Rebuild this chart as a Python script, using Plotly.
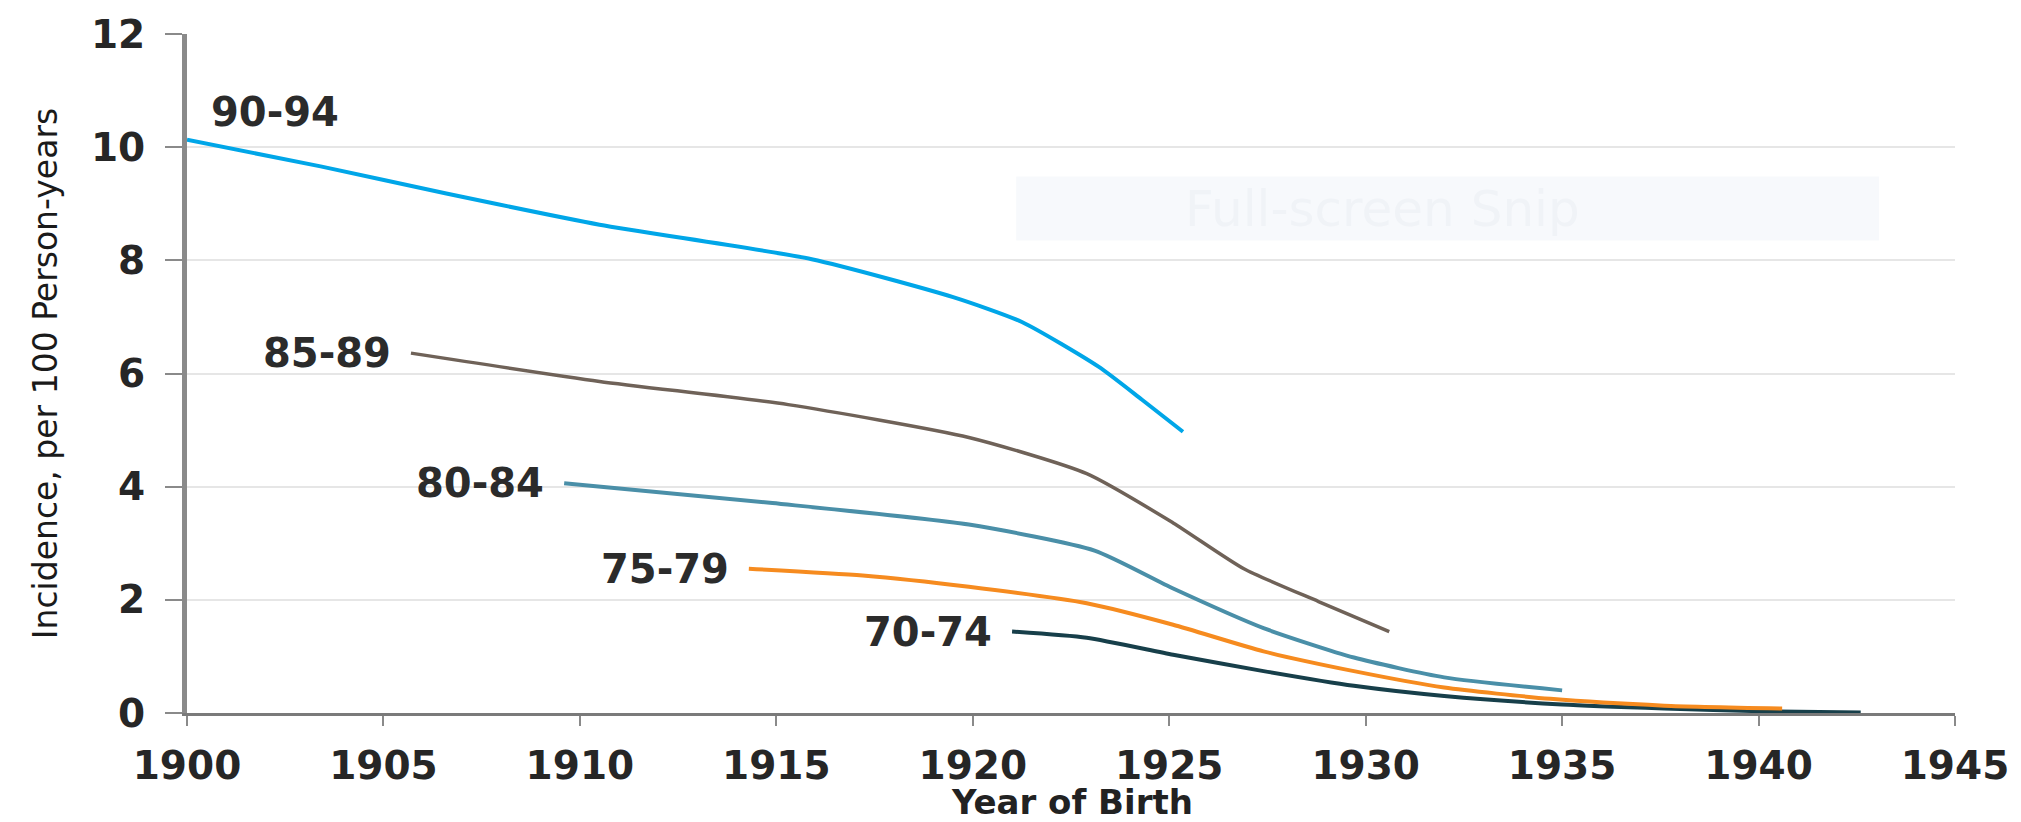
import plotly.graph_objects as go

# ---- data ----
labels = ["70-74", "75-79", "80-84", "85-89", "90-94"]

years_70_74 = [1921.0, 1922.9, 1925.1, 1927.4, 1929.7, 1932.0, 1935.0, 1937.6, 1940.1, 1942.6]
inc_70_74 = [1.44, 1.33, 1.03, 0.74, 0.48, 0.30, 0.15, 0.08, 0.03, 0.01]

years_75_79 = [1914.3, 1917.2, 1919.9, 1922.9, 1925.1, 1927.4, 1929.7, 1932.0, 1934.7, 1937.6, 1940.6]
inc_75_79 = [2.55, 2.43, 2.23, 1.94, 1.56, 1.09, 0.74, 0.45, 0.25, 0.13, 0.08]

years_80_84 = [1909.6, 1914.9, 1919.9, 1923.1, 1925.1, 1927.4, 1929.7, 1932.0, 1935.0]
inc_80_84 = [4.06, 3.71, 3.33, 2.87, 2.20, 1.50, 0.98, 0.63, 0.40]

years_85_89 = [1905.7, 1910.5, 1915.3, 1919.9, 1922.9, 1925.1, 1926.9, 1928.8, 1930.6]
inc_85_89 = [6.36, 5.86, 5.45, 4.87, 4.23, 3.36, 2.55, 1.97, 1.44]

years_90_94 = [1900.0, 1903.4, 1906.6, 1910.5, 1915.9, 1919.5, 1921.25, 1923.2, 1924.3, 1925.35]
inc_90_94 = [10.13, 9.66, 9.18, 8.63, 8.02, 7.35, 6.91, 6.12, 5.54, 4.97]

x_ticks = [1900, 1905, 1910, 1915, 1920, 1925, 1930, 1935, 1940, 1945]
y_ticks = [0, 2, 4, 6, 8, 10, 12]

series_x = [years_70_74, years_75_79, years_80_84, years_85_89, years_90_94]
series_y = [inc_70_74, inc_75_79, inc_80_84, inc_85_89, inc_90_94]
colors = ["#173f4a", "#f68b1f", "#4a8fa8", "#6f6258", "#00a6e8"]
widths = [4, 4, 4, 3.5, 4]

fig = go.Figure()
for lab, xs, ys, c, w in zip(labels, series_x, series_y, colors, widths):
    fig.add_trace(go.Scatter(x=xs, y=ys, mode="lines", name=lab,
                             line=dict(color=c, width=w, shape="spline", smoothing=0.6),
                             showlegend=False, hoverinfo="skip"))

lab_font = dict(family="DejaVu Sans", size=40, color="#2b2b2b", weight="bold")
for lab, xs, ys in zip(labels, series_x, series_y):
    if lab == "90-94":
        fig.add_annotation(x=xs[0], y=ys[0], text=lab, showarrow=False,
                           xanchor="left", yanchor="bottom", xshift=22, yshift=3, font=lab_font)
    else:
        fig.add_annotation(x=xs[0], y=ys[0], text=lab, showarrow=False,
                           xanchor="right", yanchor="middle", xshift=-18, font=lab_font)

# faint screenshot-tool watermark
fig.add_shape(type="rect", xref="paper", yref="paper", x0=0.469, x1=0.957, y0=0.696, y1=0.790,
              fillcolor="#f7f9fc", line=dict(width=0), layer="below")
fig.add_annotation(xref="paper", yref="paper", x=0.676, y=0.743, text="Full-screen Snip",
                   showarrow=False, xanchor="center", yanchor="middle",
                   font=dict(family="DejaVu Sans", size=50, color="#f0f3f7"))

# axis titles
fig.add_annotation(xref="paper", yref="paper", x=0.5003, y=-0.131, text="Year of Birth",
                   showarrow=False, xanchor="center", yanchor="middle",
                   font=dict(family="DejaVu Sans", size=34, color="#222", weight="bold"))
fig.add_annotation(xref="paper", yref="paper", x=-0.0803, y=0.499, text="Incidence, per 100 Person-years",
                   showarrow=False, textangle=-90, xanchor="center", yanchor="middle",
                   font=dict(family="DejaVu Sans", size=33, color="#1a1a1a"))

tick_font = dict(family="DejaVu Sans", size=39, color="#262626", weight="bold")
fig.update_xaxes(range=[1900, 1945], tickvals=x_ticks, ticktext=[str(v) for v in x_ticks],
                 showgrid=False, zeroline=False, showline=True, linecolor="#7a7a7a", linewidth=3,
                 ticks="outside", ticklen=10, tickwidth=2, tickcolor="#8a8a8a", tickfont=tick_font,
                 ticklabelstandoff=6)
fig.update_yaxes(range=[0, 12], tickvals=y_ticks, showgrid=True, gridcolor="#e6e6e6", gridwidth=2,
                 zeroline=False, showline=True, linecolor="#8a8a8a", linewidth=5,
                 ticks="outside", ticklen=17, tickwidth=2, tickcolor="#8a8a8a", tickfont=tick_font,
                 ticklabelstandoff=12)

fig.update_layout(width=2021, height=822, margin=dict(l=187, r=65, t=26, b=109),
                  plot_bgcolor="white", paper_bgcolor="white")
fig.write_html("out.html", config={"displayModeBar": False},
               post_script="document.body.style.margin='0px';")
